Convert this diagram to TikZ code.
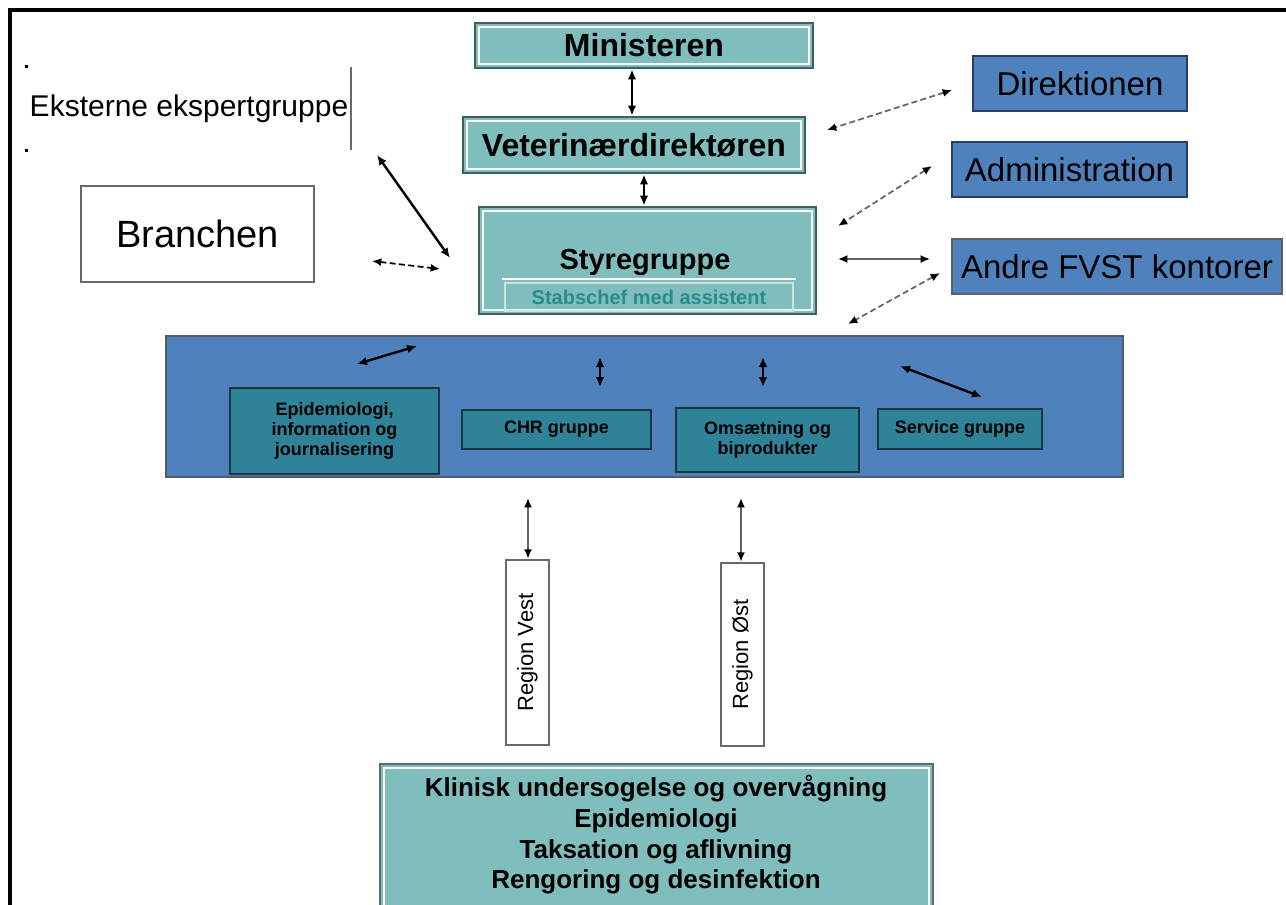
\documentclass[tikz,border=0pt]{standalone}
\usepackage{fontspec}
\setmainfont{Liberation Sans}
\usetikzlibrary{arrows.meta,fit}
\definecolor{tealfill}{RGB}{128,190,190}
\definecolor{tealline}{RGB}{64,96,96}
\definecolor{bluefill}{RGB}{79,129,189}
\definecolor{navyline}{RGB}{40,62,100}
\definecolor{deepteal}{RGB}{46,131,153}
\definecolor{deepline}{RGB}{30,52,64}
\definecolor{stabtext}{RGB}{40,140,140}
\definecolor{stabline}{RGB}{205,228,222}
\definecolor{greyline}{RGB}{105,105,105}
\definecolor{dashgrey}{RGB}{100,100,100}
\begin{document}
\begin{tikzpicture}[x=0.75pt,y=-0.75pt,
  box/.style={inner sep=0pt},
  txt/.style={inner sep=0pt, align=center},
  insetline/.style={path picture={\draw[white,line width=0.9pt]
      ([xshift=3pt,yshift=-3pt]path picture bounding box.north west) rectangle
      ([xshift=-3pt,yshift=3pt]path picture bounding box.south east);}},
  tealbox/.style={box, fill=tealfill, draw=tealline, line width=2.2pt, insetline},
  bluebox/.style={box, fill=bluefill, draw=navyline, line width=1.8pt},
  bluetxt/.style={txt, font=\fontsize{24.75}{28}\selectfont},
  subbox/.style={box, fill=deepteal, draw=deepline, line width=1.6pt},
  subtxt/.style={txt, font=\fontsize{13.5}{15}\selectfont\bfseries},
  whitebox/.style={box, fill=white, draw=greyline, line width=2pt},
  arr/.style={{Latex[length=7.5pt,width=6.5pt]}-{Latex[length=7.5pt,width=6.5pt]}, line width=1.8pt, black},
  thinarr/.style={{Latex[length=7pt,width=6pt,black]}-{Latex[length=7pt,width=6pt,black]}, line width=1.3pt, dashgrey},
  dasharr/.style={thinarr, dash pattern=on 4.5pt off 2.5pt},
]
\useasboundingbox (0,0) rectangle (1286,904);
\clip (0,0) rectangle (1286,904);

% outer frame (top and left edges only)
\draw[line width=2.3pt, black] (1290,10) -- (10,10) -- (10,910);

% management chain
\node[tealbox, fit={(475,23) (813,68)}] (min) {};
\node[txt, font=\fontsize{24}{28}\selectfont\bfseries] (minT) at (min.center) {Ministeren};
\node[tealbox, fit={(463,117) (805,173)}] (vet) {};
\node[txt, font=\fontsize{24}{28}\selectfont\bfseries] (vetT) at (vet.center) {Veterinærdirektøren};
\node[tealbox, fit={(479,207) (816,314)}] (sty) {};
\node[txt, font=\fontsize{21.75}{26}\selectfont\bfseries] (styT) at (645,262) {Styregruppe};
\draw[white, line width=0.9pt] (502,279) -- (796,279);
\node[box, fit={(505,283) (793,311)}, draw=stabline, line width=1.3pt] (stab) {};
\node[txt, text=stabtext, font=\fontsize{15}{18}\selectfont\bfseries] (stabT) at (stab.center) {Stabschef med assistent};

% external groups on the left
\node[box, fit={(27,67) (351,150)}] (ekst) {};
\node[txt, font=\fontsize{22.5}{26}\selectfont] (ekstT) at (ekst.center) {Eksterne ekspertgruppe};
\draw[greyline, line width=1.3pt] (ekst.north east) -- (ekst.south east);
\fill[black] ([xshift=-1pt,yshift=-1pt]ekst.north west) rectangle ([xshift=1pt,yshift=1pt]ekst.north west);
\fill[black] ([xshift=-1pt,yshift=-1pt]ekst.south west) rectangle ([xshift=1pt,yshift=1pt]ekst.south west);
\node[whitebox, fit={(81,186) (314,282)}] (bra) {};
\node[txt, font=\fontsize{28.5}{32}\selectfont] (braT) at (bra.center) {Branchen};

% offices on the right
\node[bluebox, fit={(973,56) (1187,111)}] (dir) {};
\node[bluetxt] (dirT) at (dir.center) {Direktionen};
\node[bluebox, fit={(952,142) (1187,197)}] (adm) {};
\node[bluetxt] (admT) at (adm.center) {Administration};
\node[bluebox, fit={(952,239) (1282,294)}, draw=greyline!80!navyline] (fvst) {};
\node[bluetxt] (fvstT) at (fvst.center) {Andre FVST kontorer};

% working groups
\node[box, fit={(166,336) (1123,477)}, fill=bluefill, draw=greyline!70!navyline, line width=2pt] (grp) {};
\node[subbox, fit={(230,388) (439,474)}] (epi) {};
\node[subtxt] (epiT) at (epi.center) {Epidemiologi,\\information og\\journalisering};
\node[subbox, fit={(462,410) (651,449)}] (chr) {};
\node[subtxt] (chrT) at (chr.center) {CHR gruppe};
\node[subbox, fit={(676,408) (859,472)}] (oms) {};
\node[subtxt] (omsT) at (oms.center) {Omsætning og\\biprodukter};
\node[subbox, fit={(878,409) (1042,449)}] (srv) {};
\node[subtxt] (srvT) at (srv.center) {Service gruppe};

% regions
\node[whitebox, fit={(506,560) (549,745)}] (rv) {};
\node[txt, rotate=90, font=\fontsize{16.5}{20}\selectfont] (rvT) at (rv.center) {Region Vest};
\node[whitebox, fit={(721,563) (764,746)}] (ro) {};
\node[txt, rotate=90, font=\fontsize{16.5}{20}\selectfont] (roT) at (ro.center) {Region Øst};

% field tasks
\node[tealbox, draw=greyline, fit={(380,764) (933,910)}] (task) {};
\node[txt, font=\fontsize{19.5}{23}\selectfont\bfseries] (taskT) at (656,835)
  {Klinisk undersogelse og overvågning\\Epidemiologi\\Taksation og aflivning\\Rengoring og desinfektion};

% connector end points
\coordinate (xa) at (632,0);
\coordinate (xb) at (644,0);
\coordinate (e1) at (377,155);  \coordinate (e2) at (450,258);
\coordinate (b1) at (372,261);  \coordinate (b2) at (440,269);
\coordinate (d1) at (952,90);   \coordinate (d2) at (827,130);
\coordinate (m1) at (932,166);  \coordinate (m2) at (838,226);
\coordinate (f1) at (838,259);  \coordinate (f2) at (930,259);
\coordinate (g1) at (940,273);  \coordinate (g2) at (848,324);
\coordinate (p1) at (357,364);  \coordinate (p2) at (417,346);
\coordinate (q1) at (600,357);  \coordinate (q2) at (600,387);
\coordinate (r1) at (763,357);  \coordinate (r2) at (763,387);
\coordinate (s1) at (900,366);  \coordinate (s2) at (982,397);
\coordinate (v1) at (528,498);
\coordinate (o1) at (741,498);

% connectors
\draw[arr] (min.south -| xa) -- (vet.north -| xa);
\draw[arr] (vet.south -| xb) -- (sty.north -| xb);
\draw[arr] (e1) -- (e2);
\draw[dasharr, black] (b1) -- (b2);
\draw[dasharr] (d1) -- (d2);
\draw[dasharr] (m1) -- (m2);
\draw[thinarr] (f1) -- (f2);
\draw[dasharr] (g1) -- (g2);
\draw[arr] (p1) -- (p2);
\draw[arr] (q1) -- (q2);
\draw[arr] (r1) -- (r2);
\draw[arr] (s1) -- (s2);
\draw[thinarr] (v1) -- (rv.north -| v1);
\draw[thinarr] (o1) -- (ro.north -| o1);
\end{tikzpicture}
\end{document}
